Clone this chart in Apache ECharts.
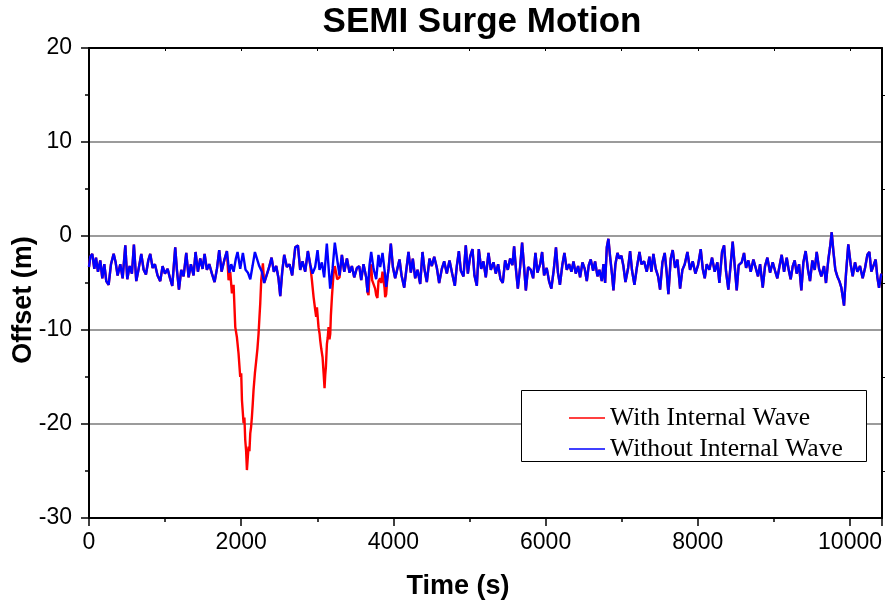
<!DOCTYPE html>
<html><head><meta charset="utf-8">
<script src="https://cdn.jsdelivr.net/npm/echarts@6/dist/echarts.min.js"></script>
<style>html,body{margin:0;padding:0;background:#fff}#c{width:889px;height:607px}</style>
</head><body><div id="c"></div><script>
// Time (s), offset (m) — without internal wave
const blueData = [
[0,-3.3],[17,-2.2],[43,-1.9],[70,-3.5],[92,-2.3],[118,-3.8],[148,-2.6],[175,-4.5],[201,-3.0],[227,-4.8],[258,-5.2],[289,-3.0],[324,-1.9],[350,-2.8],[376,-4.2],[411,-3.0],[442,-4.5],[477,-1.0],[503,-4.6],[534,-3.2],[564,-4.0],[590,-0.9],[621,-4.8],[652,-3.5],[687,-1.9],[718,-3.6],[748,-4.1],[779,-2.6],[805,-1.9],[836,-3.4],[866,-3.0],[901,-4.2],[936,-4.8],[967,-3.2],[998,-4.0],[1033,-3.5],[1068,-4.6],[1094,-5.3],[1133,-1.2],[1155,-3.6],[1182,-5.7],[1212,-3.6],[1243,-4.3],[1278,-1.8],[1309,-4.4],[1339,-3.0],[1374,-4.2],[1400,-1.7],[1431,-3.8],[1462,-2.4],[1492,-3.5],[1519,-1.9],[1549,-3.6],[1580,-3.0],[1615,-4.0],[1650,-4.9],[1681,-3.5],[1711,-1.5],[1742,-3.8],[1777,-2.6],[1812,-1.6],[1843,-3.9],[1869,-3.0],[1900,-3.8],[1930,-2.4],[1952,-1.7],[1987,-3.5],[2022,-1.8],[2057,-3.6],[2088,-3.9],[2119,-4.6],[2149,-3.2],[2180,-1.7],[2206,-1.5],[2237,-3.2],[2272,-3.8],[2302,-5.0],[2329,-4.3],[2364,-3.4],[2399,-2.3],[2429,-3.8],[2460,-3.2],[2490,-4.5],[2513,-6.4],[2539,-3.8],[2565,-2.0],[2600,-3.3],[2635,-3.0],[2670,-4.2],[2710,-1.2],[2745,-1.0],[2775,-3.6],[2806,-2.7],[2841,-3.8],[2876,-1.6],[2906,-3.0],[2937,-4.0],[2972,-3.3],[3003,-1.5],[3029,-3.6],[3060,-2.8],[3090,-4.4],[3125,-0.8],[3147,-3.2],[3169,-5.6],[3200,-3.5],[3230,-0.7],[3261,-2.5],[3292,-4.2],
[3323,-2.0],[3354,-3.8],[3389,-2.4],[3424,-3.9],[3454,-3.2],[3485,-4.4],[3520,-3.4],[3551,-3.2],[3577,-4.7],[3607,-3.0],[3642,-4.4],[3660,-6.0],[3686,-3.1],[3708,-1.7],[3739,-3.5],[3774,-4.6],[3804,-2.0],[3826,-3.3],[3857,-1.8],[3883,-3.6],[3905,-5.4],[3936,-3.5],[3966,-0.8],[3993,-3.3],[4023,-4.5],[4054,-3.4],[4080,-2.5],[4107,-4.2],[4142,-5.5],[4168,-3.7],[4198,-1.7],[4229,-3.9],[4255,-2.4],[4286,-4.5],[4317,-3.6],[4352,-5.1],[4382,-1.7],[4409,-3.6],[4439,-4.9],[4474,-2.4],[4505,-3.2],[4536,-2.2],[4571,-3.4],[4601,-5.0],[4636,-3.5],[4667,-2.7],[4702,-4.0],[4737,-2.6],[4772,-4.0],[4807,-5.3],[4833,-3.2],[4860,-1.6],[4886,-3.7],[4921,-4.3],[4951,-1.0],[4978,-4.0],[5008,-2.2],[5039,-1.4],[5065,-4.2],[5096,-5.3],[5122,-1.4],[5153,-3.5],[5183,-2.7],[5214,-4.4],[5249,-1.8],[5280,-3.6],[5315,-2.8],[5345,-4.0],[5376,-3.0],[5407,-4.6],[5437,-5.0],[5468,-2.6],[5503,-3.6],[5534,-2.4],[5564,-3.1],[5586,-1.1],[5613,-3.8],[5635,-5.6],[5665,-3.3],[5691,-0.7],[5718,-3.4],[5740,-5.8],[5770,-3.3],[5805,-3.6],[5836,-4.5],[5866,-1.8],[5893,-3.9],[5928,-3.0],[5954,-1.7],[5980,-4.2],[6014,-3.4],[6045,-4.8],[6075,-5.6],[6107,-3.6],[6136,-1.2],[6162,-3.9],[6188,-5.2],[6221,-3.0],[6247,-1.8],[6278,-3.6],[6309,-3.0],[6339,-3.8],[6366,-2.7],[6396,-4.0],[6427,-3.2],[6453,-4.4],[6484,-2.8],[6514,-3.5],[6541,-4.8],[6567,-3.1],[6593,-2.5],[6624,-3.7],[6650,-2.7],[6681,-4.3],[6707,-3.6],
[6738,-4.8],[6760,-3.0],[6782,-5.0],[6804,-1.2],[6825,-0.3],[6847,-2.2],[6874,-4.2],[6891,-5.8],[6917,-3.0],[6944,-1.8],[6970,-2.4],[6996,-2.1],[7022,-3.2],[7049,-4.9],[7084,-3.4],[7110,-1.6],[7136,-3.7],[7167,-5.2],[7198,-3.4],[7233,-1.7],[7259,-3.0],[7294,-2.7],[7329,-3.8],[7364,-2.2],[7390,-3.8],[7416,-1.9],[7447,-3.5],[7478,-4.3],[7504,-5.7],[7535,-2.8],[7565,-1.8],[7592,-4.0],[7613,-6.2],[7644,-2.4],[7670,-1.5],[7701,-3.4],[7732,-2.5],[7767,-5.6],[7797,-3.6],[7828,-3.0],[7863,-1.7],[7898,-3.6],[7933,-2.7],[7968,-4.0],[8003,-3.1],[8038,-1.4],[8065,-3.5],[8091,-4.5],[8117,-3.0],[8152,-3.6],[8187,-2.3],[8222,-3.8],[8257,-2.8],[8283,-5.0],[8318,-1.7],[8345,-1.0],[8371,-3.8],[8401,-5.7],[8432,-3.0],[8458,-0.6],[8489,-3.6],[8511,-5.8],[8537,-3.1],[8577,-2.8],[8607,-1.8],[8634,-3.4],[8664,-2.6],[8695,-3.8],[8730,-2.5],[8761,-3.4],[8791,-4.3],[8818,-3.0],[8853,-5.5],[8883,-3.2],[8914,-2.3],[8949,-3.9],[8984,-2.8],[9015,-3.7],[9045,-4.5],[9071,-3.3],[9102,-2.0],[9133,-3.8],[9168,-2.3],[9194,-3.6],[9220,-4.6],[9247,-3.2],[9273,-2.6],[9299,-4.0],[9330,-3.0],[9360,-5.8],[9387,-2.8],[9417,-1.6],[9448,-3.6],[9474,-4.8],[9505,-2.6],[9536,-3.6],[9562,-1.7],[9593,-3.5],[9623,-4.3],[9658,-3.2],[9684,-5.0],[9715,-2.5],[9737,-1.2],[9759,0.4],[9781,-1.6],[9807,-3.6],[9833,-4.3],[9860,-4.8],[9886,-5.5],[9921,-7.4],[9947,-4.0],[9977,-0.9],[10008,-3.0],[10035,-4.3],[10065,-2.8],[10096,-3.8],[10131,-3.2],[10166,-4.5],[10197,-3.4],[10228,-2.0],[10254,-1.7],[10280,-3.8],[10306,-4.0],[10337,-2.5],[10359,-4.4],[10381,-5.5],[10410,-4.0]
];

// With internal wave: same record except inside these windows
const redWindow1 = [1830, 2295];
const redDip1 = [[1834,-4.7],[1856,-3.8],[1878,-6.1],[1900,-5.2],[1922,-9.7],[1944,-10.8],[1965,-12.5],[1987,-15.0],[2000,-14.6],[2010,-17.5],[2031,-19.9],[2042,-19.3],[2053,-21.7],[2064,-22.8],[2075,-24.9],[2086,-23.6],[2097,-22.4],[2108,-22.9],[2119,-21.0],[2130,-20.3],[2141,-19.2],[2152,-17.8],[2162,-16.4],[2180,-14.6],[2198,-13.2],[2213,-12.0],[2228,-10.4],[2240,-8.6],[2250,-7.2],[2263,-4.7],[2285,-2.9]];
const redWindow2 = [2920, 3300];
const redDip2 = [[2929,-4.7],[2951,-6.5],[2973,-7.9],[2985,-8.6],[2995,-7.6],[3016,-9.7],[3030,-10.4],[3038,-11.1],[3052,-12.0],[3069,-12.9],[3082,-14.5],[3095,-16.2],[3104,-14.8],[3113,-13.9],[3126,-11.5],[3137,-10.8],[3148,-9.7],[3160,-11.0],[3170,-10.4],[3178,-8.5],[3192,-6.5],[3213,-4.0],[3230,-3.2],[3261,-4.6],[3292,-4.4]];
const redWindow3 = [3650, 3950];
const redDip3 = [[3660,-6.0],[3673,-6.3],[3686,-4.0],[3708,-3.0],[3720,-4.7],[3739,-4.9],[3760,-5.6],[3774,-6.3],[3790,-6.6],[3804,-4.8],[3826,-4.5],[3840,-5.0],[3857,-3.8],[3883,-5.5],[3892,-6.5],[3905,-6.2],[3920,-4.5],[3936,-3.5]];

const seriesNames = ['With Internal Wave', 'Without Internal Wave'];
const xTicks = [0, 2000, 4000, 6000, 8000, 10000];
const yTicks = [-30, -20, -10, 0, 10, 20];

const windows = [[redWindow1, redDip1], [redWindow2, redDip2], [redWindow3, redDip3]];
let redData = blueData.filter(p => !windows.some(([w]) => p[0] >= w[0] && p[0] <= w[1]));
windows.forEach(([w, d]) => { redData = redData.concat(d); });
redData.sort((a, b) => a[0] - b[0]);

const chart = echarts.init(document.getElementById('c'), null, {renderer: 'canvas'});
const axisBlack = {show: true, onZero: false, lineStyle: {color: '#000', width: 2}};
chart.setOption({
  animation: false,
  backgroundColor: '#fff',
  grid: {left: 89, right: 7, top: 48, bottom: 89, containLabel: false},
  xAxis: [
    {type: 'value', position: 'bottom', min: 0, max: 10420, interval: 2000,
     axisLine: axisBlack,
     axisTick: {show: true, length: 8, lineStyle: {color: '#000', width: 1.5}},
     minorTick: {show: true, splitNumber: 2, length: 4, lineStyle: {color: '#000', width: 1.5}},
     axisLabel: {color: '#000', fontFamily: 'Liberation Sans, Arial', fontSize: 23, margin: 13,
       formatter: v => xTicks.indexOf(v) >= 0 ? String(v) : ''},
     splitLine: {show: false}},
    {type: 'value', position: 'top', min: 0, max: 10420, interval: 1000,
     axisLine: axisBlack,
     axisTick: {show: true, inside: true, length: 3, lineStyle: {color: '#000', width: 1}},
     axisLabel: {show: false}, splitLine: {show: false}}
  ],
  yAxis: [
    {type: 'value', position: 'left', min: -30, max: 20, interval: 10,
     axisLine: axisBlack,
     axisTick: {show: true, length: 8, lineStyle: {color: '#000', width: 1.5}},
     minorTick: {show: true, splitNumber: 2, length: 4, lineStyle: {color: '#000', width: 1.5}},
     axisLabel: {color: '#000', fontFamily: 'Liberation Sans, Arial', fontSize: 23, margin: 17,
       formatter: v => yTicks.indexOf(v) >= 0 ? String(v) : ''},
     splitLine: {show: true, lineStyle: {color: '#7a7a7a', width: 1.5}}},
    {type: 'value', position: 'right', min: -30, max: 20, interval: 10,
     axisLine: axisBlack,
     axisTick: {show: false},
     minorTick: {show: true, splitNumber: 2, length: 3, lineStyle: {color: '#000', width: 1}},
     axisLabel: {show: false}, splitLine: {show: false}}
  ],
  legend: {
    data: seriesNames, orient: 'vertical', left: 521, top: 390, z: 10,
    padding: [15, 23, 0, 48], itemGap: 5, itemWidth: 36, itemHeight: 1.5, icon: 'rect',
    textStyle: {color: '#000', fontFamily: 'Liberation Serif, Times New Roman', fontSize: 25.6}
  },
  graphic: [
    {type: 'rect', z: 5, shape: {x: 521.5, y: 390.5, width: 345, height: 71},
      style: {fill: '#fff', stroke: '#000', lineWidth: 1}},
    {type: 'text', x: 482, y: 22, style: {text: 'SEMI Surge Motion', fill: '#000',
      font: 'bold 35px "Liberation Sans", Arial', align: 'center', verticalAlign: 'middle'}},
    {type: 'text', x: 458, y: 587, style: {text: 'Time (s)', fill: '#000',
      font: 'bold 27px "Liberation Sans", Arial', align: 'center', verticalAlign: 'middle'}},
    {type: 'text', x: 24, y: 300, rotation: Math.PI / 2, style: {text: 'Offset (m)', fill: '#000',
      font: 'bold 27px "Liberation Sans", Arial', align: 'center', verticalAlign: 'middle'}}
  ],
  series: [
    {name: seriesNames[0], type: 'line', data: redData, symbol: 'none', showSymbol: false,
     lineStyle: {color: '#ff0000', width: 2.4}, itemStyle: {color: '#ff0000'}, z: 2},
    {name: seriesNames[1], type: 'line', data: blueData, symbol: 'none', showSymbol: false,
     lineStyle: {color: '#0000ff', width: 2.4}, itemStyle: {color: '#0000ff'}, z: 3}
  ]
});
</script></body></html>
